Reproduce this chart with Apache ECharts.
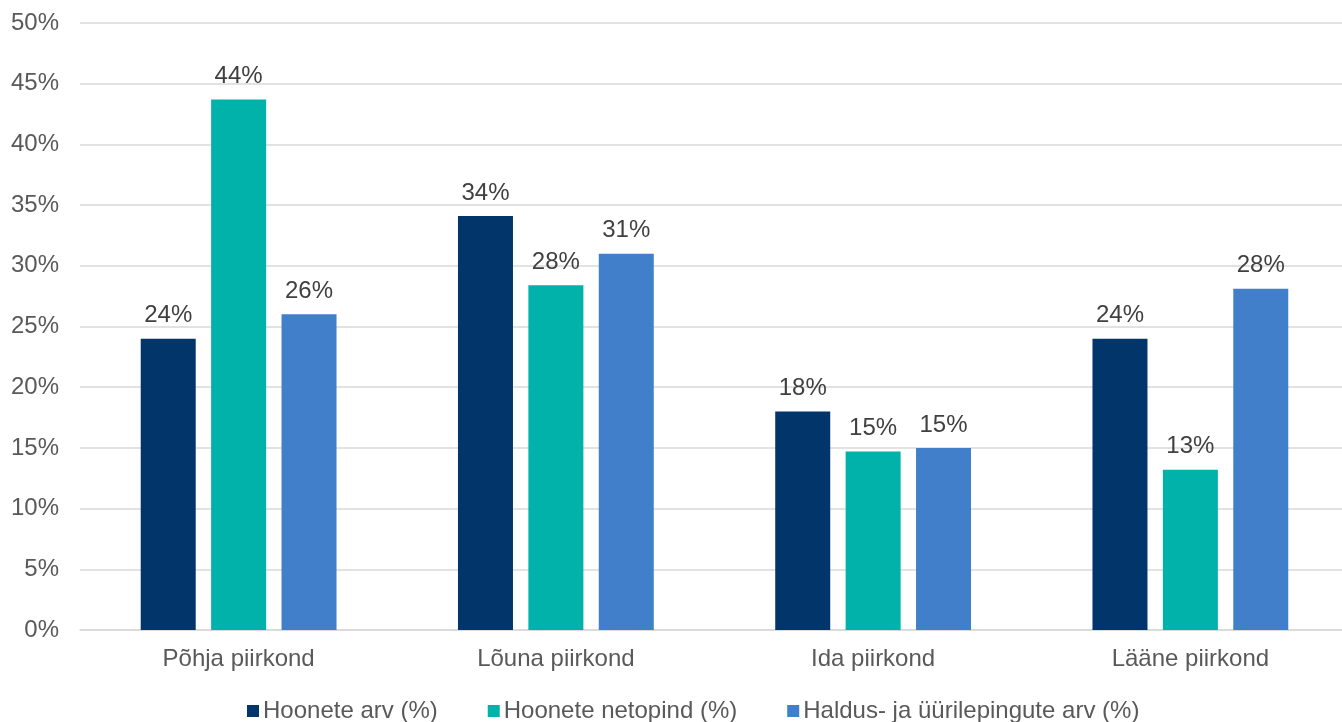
<!DOCTYPE html>
<html>
<head>
<meta charset="utf-8">
<script src="https://cdn.jsdelivr.net/npm/echarts@6/dist/echarts.min.js"></script>
<style>
  html, body { margin: 0; padding: 0; background: #fff; }
  #chart { width: 1342px; height: 722px; }
</style>
</head>
<body>
<div id="chart"></div>
<script>
// piirkonnad
const categories = ['Põhja piirkond', 'Lõuna piirkond', 'Ida piirkond', 'Lääne piirkond']
const seriesNames = ['Hoonete arv (%)', 'Hoonete netopind (%)', 'Haldus- ja üürilepingute arv (%)']
const hooneteArv = [24.0, 34.1, 18.0, 24.0]
const netopind = [43.7, 28.4, 14.7, 13.2]
const lepinguteArv = [26.0, 31.0, 15.0, 28.1]
const yTicks = [0, 5, 10, 15, 20, 25, 30, 35, 40, 45, 50]

const colors = ['#02366A', '#00B2A9', '#417FCA']
const fontFamily = '"Liberation Sans", Arial, Helvetica, sans-serif'

const chart = echarts.init(document.getElementById('chart'))

const makeSeries = (name, data, color) => {
  return {
    name: name,
    type: 'bar',
    data: data,
    barWidth: 55,
    barGap: '28%',
    itemStyle: { color: color },
    label: {
      show: true,
      position: 'top',
      distance: 11,
      color: '#404040',
      fontSize: 24,
      fontFamily: fontFamily,
      formatter: (p) => Math.round(p.value) + '%'
    }
  }
}

chart.setOption({
  animation: false,
  textStyle: { fontFamily: fontFamily },
  grid: {
    left: 80,
    top: 23,
    width: 1269,
    bottom: 92,
    outerBoundsMode: 'none'
  },
  legend: {
    data: seriesNames,
    left: 242,
    top: 694,
    icon: 'rect',
    itemWidth: 12,
    itemHeight: 12,
    itemGap: 50,
    textStyle: {
      color: '#595959',
      fontSize: 24,
      fontFamily: fontFamily,
      padding: [0, 0, 0, -1]
    }
  },
  xAxis: {
    type: 'category',
    data: categories,
    axisTick: { show: false },
    axisLine: { lineStyle: { color: '#d9d9d9', width: 1.5 } },
    axisLabel: {
      color: '#595959',
      fontSize: 24,
      margin: 17,
      fontFamily: fontFamily
    }
  },
  yAxis: {
    type: 'value',
    min: yTicks[0],
    max: yTicks[yTicks.length - 1],
    interval: 5,
    axisLine: { show: false },
    axisTick: { show: false },
    axisLabel: {
      color: '#595959',
      fontSize: 24,
      margin: 21,
      fontFamily: fontFamily,
      formatter: '{value}%'
    },
    splitLine: { lineStyle: { color: '#d9d9d9', width: 1.5 } }
  },
  series: [
    makeSeries(seriesNames[0], hooneteArv, colors[0]),
    makeSeries(seriesNames[1], netopind, colors[1]),
    makeSeries(seriesNames[2], lepinguteArv, colors[2])
  ]
})
</script>
</body>
</html>
